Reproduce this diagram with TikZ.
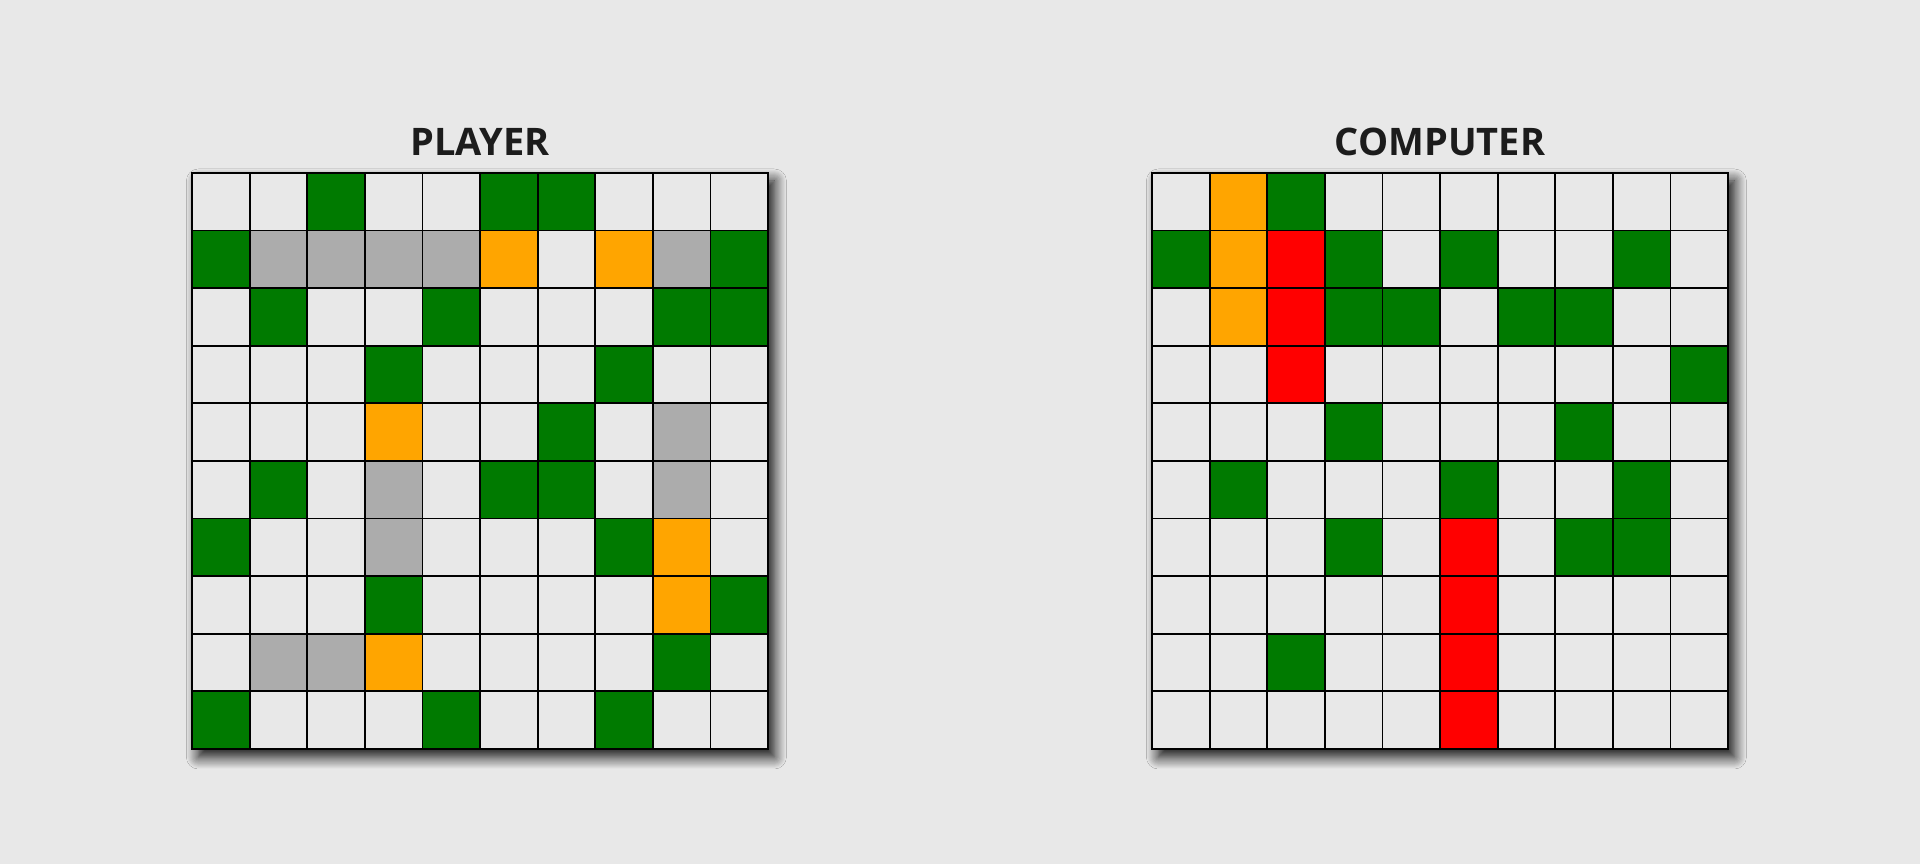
\documentclass[tikz,border=0pt]{standalone}
\usepackage{fontspec}
\setmainfont{Open Sans}
\usetikzlibrary{shadows.blur}
\definecolor{bgcol}{HTML}{E8E8E8}
\definecolor{cellE}{HTML}{E8E8E8}
\definecolor{cellG}{HTML}{007A00}
\definecolor{cellS}{HTML}{ACACAC}
\definecolor{cellO}{HTML}{FFA500}
\definecolor{cellR}{HTML}{FF0000}
\definecolor{titlecol}{HTML}{1C1C1C}
\tikzset{
  cellbox/.style={draw=black, line width=0.045cm, minimum size=1.44cm,
    inner sep=0pt, outer sep=0pt},
  board/.style={fill=bgcol, minimum size=14.4cm, inner sep=0pt, outer sep=0pt,
    blur shadow={shadow xshift=0.16cm, shadow yshift=-0.2cm,
      shadow blur radius=0.3cm, shadow blur steps=12, shadow opacity=95}},
  boardtitle/.style={font=\bfseries\fontsize{27}{32}\selectfont,
    text=titlecol, anchor=base}
}
\begin{document}
\begin{tikzpicture}
  \fill[bgcol] (0,0) rectangle (48,21.6);
  \useasboundingbox (0,0) rectangle (48,21.6);

  % player board
  \node[boardtitle] (ptitle) at (12,17.7) {PLAYER};
  \node[board] (pboard) at (12,10.075) {};
  \foreach \row [count=\r from 0] in {
      {E,E,G,E,E,G,G,E,E,E},
      {G,S,S,S,S,O,E,O,S,G},
      {E,G,E,E,G,E,E,E,G,G},
      {E,E,E,G,E,E,E,G,E,E},
      {E,E,E,O,E,E,G,E,S,E},
      {E,G,E,S,E,G,G,E,S,E},
      {G,E,E,S,E,E,E,G,O,E},
      {E,E,E,G,E,E,E,E,O,G},
      {E,S,S,O,E,E,E,E,G,E},
      {G,E,E,E,G,E,E,G,E,E}}
    \foreach \c [count=\k from 0] in \row
      \node[cellbox, fill=cell\c] (p-\r-\k)
        at ({4.8+1.44*(\k+0.5)},{17.275-1.44*(\r+0.5)}) {};

  % computer board
  \node[boardtitle] (ctitle) at (36,17.7) {COMPUTER};
  \node[board] (cboard) at (36,10.075) {};
  \foreach \row [count=\r from 0] in {
      {E,O,G,E,E,E,E,E,E,E},
      {G,O,R,G,E,G,E,E,G,E},
      {E,O,R,G,G,E,G,G,E,E},
      {E,E,R,E,E,E,E,E,E,G},
      {E,E,E,G,E,E,E,G,E,E},
      {E,G,E,E,E,G,E,E,G,E},
      {E,E,E,G,E,R,E,G,G,E},
      {E,E,E,E,E,R,E,E,E,E},
      {E,E,G,E,E,R,E,E,E,E},
      {E,E,E,E,E,R,E,E,E,E}}
    \foreach \c [count=\k from 0] in \row
      \node[cellbox, fill=cell\c] (c-\r-\k)
        at ({28.8+1.44*(\k+0.5)},{17.275-1.44*(\r+0.5)}) {};
\end{tikzpicture}
\end{document}
